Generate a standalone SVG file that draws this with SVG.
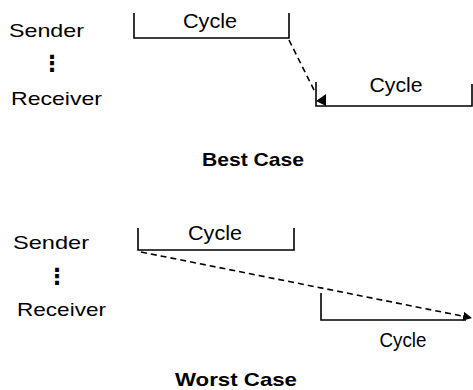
<svg xmlns="http://www.w3.org/2000/svg" width="473" height="390" viewBox="0 0 473 390">
<style>
text{font-family:"Liberation Sans",Arial,sans-serif;fill:#000}
.lbl{font-size:19px}
.dots{font-family:"DejaVu Sans",sans-serif;font-size:22px;font-weight:bold}
.cyc{font-size:21px}
.ttl{font-size:19px;font-weight:bold}
.br{fill:none;stroke:#000;stroke-width:1.6}
.dash{fill:none;stroke:#000;stroke-width:1.6;stroke-dasharray:6,4}
</style>
<defs>
<marker id="ah" viewBox="0 0 10 10" refX="10" refY="5" markerWidth="9" markerHeight="9" orient="auto" markerUnits="userSpaceOnUse">
<path d="M0,0 L10,5 L0,10 z" fill="#000"/>
</marker>
</defs>
<g id="best-labels">
<text class="lbl" x="9" y="37" textLength="75" lengthAdjust="spacingAndGlyphs">Sender</text>
<text class="dots" x="52" y="71" text-anchor="middle">⋮</text>
<text class="lbl" x="11" y="105" textLength="91" lengthAdjust="spacingAndGlyphs">Receiver</text>
</g>
<g id="best-sender-cycle">
<path class="br" d="M134,13 V38 H289 V13"/>
<text class="cyc" x="210" y="28" text-anchor="middle" textLength="54" lengthAdjust="spacingAndGlyphs">Cycle</text>
</g>
<g id="best-receiver-cycle">
<path class="br" d="M316,82 V106 H472 V84"/>
<text class="cyc" x="396" y="92" text-anchor="middle" textLength="53" lengthAdjust="spacingAndGlyphs">Cycle</text>
</g>
<g id="best-title">
<text class="ttl" x="253" y="166" text-anchor="middle" textLength="102" lengthAdjust="spacingAndGlyphs">Best Case</text>
</g>
<g id="worst-labels">
<text class="lbl" x="13" y="249" textLength="76" lengthAdjust="spacingAndGlyphs">Sender</text>
<text class="dots" x="57" y="284" text-anchor="middle">⋮</text>
<text class="lbl" x="17" y="316" textLength="89" lengthAdjust="spacingAndGlyphs">Receiver</text>
</g>
<g id="worst-sender-cycle">
<path class="br" d="M138,228 V250 H294 V228"/>
<text class="cyc" x="215" y="240" text-anchor="middle" textLength="54" lengthAdjust="spacingAndGlyphs">Cycle</text>
</g>
<g id="worst-receiver-cycle">
<path class="br" d="M321,293 V320 H466"/>
<text class="cyc" x="403" y="347" text-anchor="middle" textLength="47" lengthAdjust="spacingAndGlyphs">Cycle</text>
</g>
<g id="worst-title">
<text class="ttl" x="236" y="386" text-anchor="middle" textLength="122" lengthAdjust="spacingAndGlyphs">Worst Case</text>
</g>
<g id="connectors">
<path class="dash" d="M289,40 L315,92"/>
<polygon points="316,101 326,94 326,106" fill="#000"/>
<path class="dash" d="M141,252 L472,318" marker-end="url(#ah)"/>
</g>
</svg>
